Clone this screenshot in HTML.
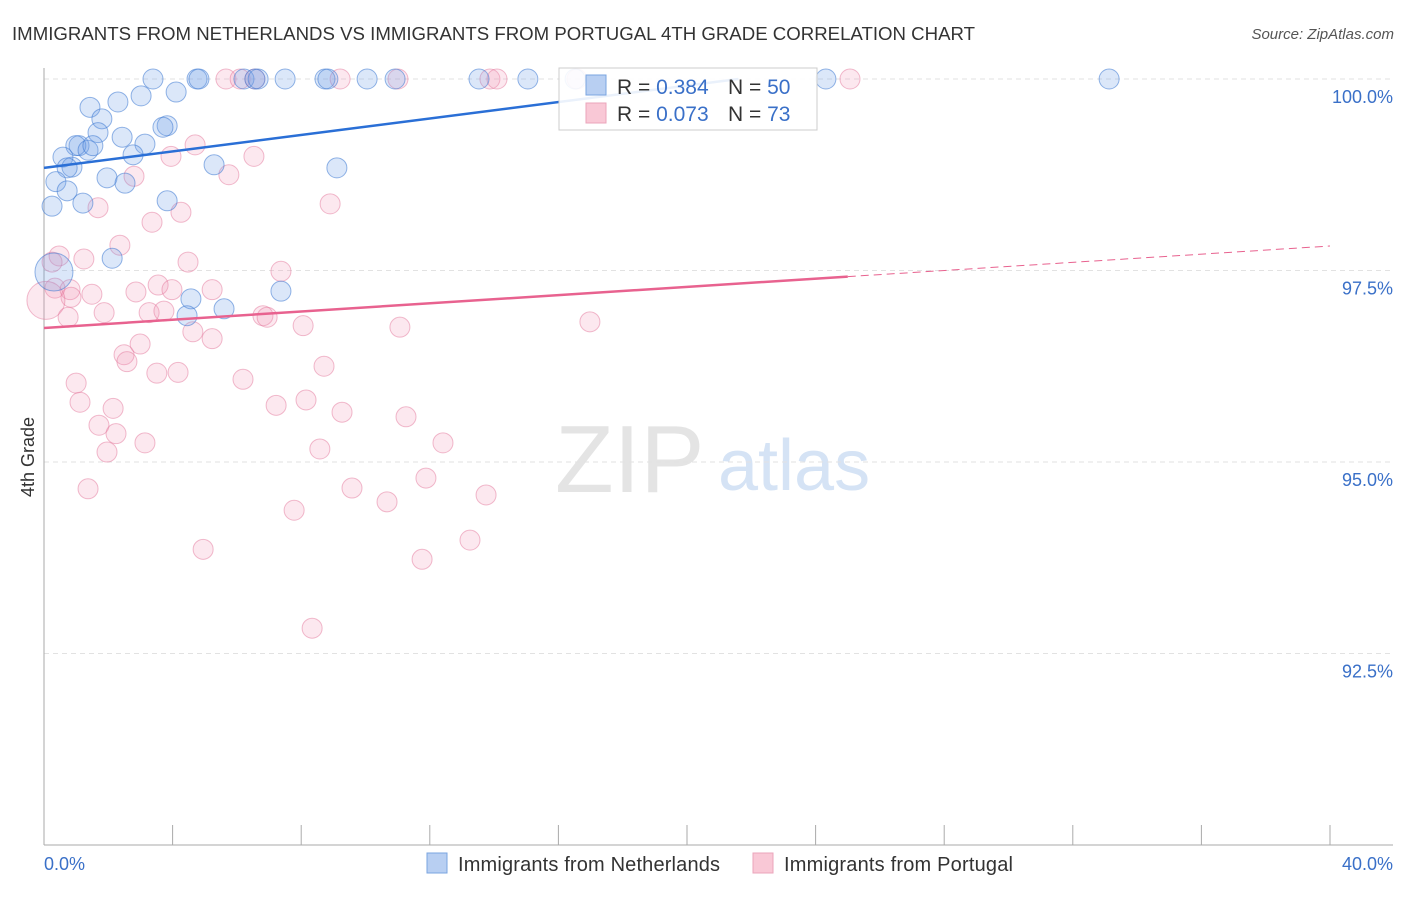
<!DOCTYPE html>
<html><head><meta charset="utf-8"><style>
body{margin:0;background:#fff;font-family:"Liberation Sans",sans-serif}
svg text{font-family:"Liberation Sans",sans-serif}
</style></head><body>
<svg id="c" width="1406" height="892">
<text x="12" y="40" font-size="18" fill="#333" textLength="963" lengthAdjust="spacingAndGlyphs">IMMIGRANTS FROM NETHERLANDS VS IMMIGRANTS FROM PORTUGAL 4TH GRADE CORRELATION CHART</text>
<text x="1394" y="39" font-size="15" fill="#555" font-style="italic" text-anchor="end">Source: ZipAtlas.com</text>
<text x="34" y="457" font-size="18" fill="#333" transform="rotate(-90 34 457)" text-anchor="middle">4th Grade</text>
<g><text x="555" y="492" font-size="96" fill="#e4e4e4" font-family="Liberation Serif,serif">ZIP</text><text x="718" y="490" font-size="72" fill="#d5e3f5">atlas</text></g>
<g id="grid"></g><g id="axes"></g><g id="marks"></g>
<g>
<rect x="559" y="68" width="258" height="62" fill="#fff" fill-opacity="0.9" stroke="#ccc"/>
<rect x="586" y="75" width="20" height="20" fill="#b8cff2" stroke="#7aa4e0"/>
<rect x="586" y="103" width="20" height="20" fill="#f9c8d6" stroke="#eba5bb"/>
<text x="617" y="94" font-size="21" fill="#333">R = <tspan fill="#3a70c8">0.384</tspan></text>
<text x="728" y="94" font-size="21" fill="#333">N = <tspan fill="#3a70c8">50</tspan></text>
<text x="617" y="121" font-size="21" fill="#333">R = <tspan fill="#3a70c8">0.073</tspan></text>
<text x="728" y="121" font-size="21" fill="#333">N = <tspan fill="#3a70c8"> 73</tspan></text>
</g>
<g>
<rect x="427" y="853" width="20" height="20" fill="#b8cff2" stroke="#7aa4e0"/>
<text x="458" y="871" font-size="20" fill="#333" textLength="262">Immigrants from Netherlands</text>
<rect x="753" y="853" width="20" height="20" fill="#f9c8d6" stroke="#eba5bb"/>
<text x="784" y="871" font-size="20" fill="#333" textLength="229">Immigrants from Portugal</text>
</g>
</svg>
<script>
const yTicks=[100,97.5,95,92.5];
const yTickLabels=["100.0%","97.5%","95.0%","92.5%"];
const xEndLabels=["0.0%","40.0%"];
const blueX=[3.39,4.76,4.82,6.22,6.56,6.66,7.50,8.74,8.83,10.05,10.92,13.53,15.05,16.52,24.32,33.13,1.43,2.30,3.02,4.11,1.80,1.68,2.43,3.83,3.70,3.14,1.09,0.99,1.37,1.52,0.59,0.87,0.72,2.77,5.29,9.11,1.96,2.52,0.37,0.72,0.25,1.21,3.83,2.12,4.57,7.37,5.60,4.45,0.31];
const blueY=[100,100,100,100,100,100,100,100,100,100,100,100,100,100,100,100,99.63,99.70,99.78,99.83,99.48,99.30,99.24,99.39,99.37,99.15,99.13,99.13,99.07,99.13,98.98,98.85,98.84,99.01,98.88,98.84,98.71,98.64,98.66,98.54,98.34,98.38,98.41,97.66,97.13,97.23,97.00,96.91,97.48];
const pinkX=[5.66,6.10,6.56,9.21,11.01,13.87,14.09,25.07,16.58,4.70,3.95,6.53,2.80,5.75,8.90,1.68,4.26,3.36,2.36,0.47,1.24,4.48,7.37,0.25,3.55,0.34,0.81,1.49,2.86,3.98,0.84,0.06,5.23,1.87,3.27,3.73,0.75,6.81,6.94,8.06,11.07,16.98,4.63,5.23,2.99,2.49,2.58,8.71,1.00,6.19,3.51,4.17,1.12,2.15,8.15,7.22,9.27,11.26,1.71,2.24,3.14,12.41,1.96,8.58,11.88,9.58,1.37,13.75,10.67,7.78,13.25,4.95,11.76,8.34];
const pinkY=[100,100,100,100,100,100,100,100,100,99.14,98.99,98.99,98.73,98.75,98.37,98.32,98.26,98.13,97.83,97.69,97.65,97.61,97.49,97.61,97.31,97.27,97.25,97.19,97.22,97.25,97.15,97.11,97.25,96.95,96.95,96.97,96.89,96.91,96.89,96.78,96.76,96.83,96.70,96.61,96.54,96.40,96.31,96.25,96.03,96.08,96.16,96.17,95.78,95.70,95.81,95.74,95.65,95.59,95.48,95.37,95.25,95.25,95.13,95.17,94.79,94.66,94.65,94.57,94.48,94.37,93.98,93.86,93.73,92.83];
const blueTrend=[0,98.84,21.6,100];
const pinkTrend=[0,96.75,25,97.42,40,97.82];
const NS="http://www.w3.org/2000/svg";
const X=v=>44+v*32.15, Y=v=>79+(100-v)*76.6;
function mk(t,a,p){const e=document.createElementNS(NS,t);for(const k in a)e.setAttribute(k,a[k]);p.appendChild(e);return e;}
const grid=document.getElementById('grid'),axes=document.getElementById('axes'),marks=document.getElementById('marks');
yTicks.forEach((t,i)=>{
 const l=mk('line',{x1:44,x2:1393,y1:Y(t),y2:Y(t),stroke:'#e2e2e2','stroke-dasharray':'5,4'},grid);
 
 
 const tx=mk('text',{x:1393,y:Y(t)+24,'font-size':18,fill:'#3a70c8','text-anchor':'end'},axes);
 tx.textContent=yTickLabels[i];
 
 
});
const ya=mk('line',{x1:44,x2:44,y1:68,y2:845,stroke:'#aaa'},axes);


const xa=mk('line',{x1:44,x2:1393,y1:845,y2:845,stroke:'#aaa'},axes);


for(let i=0;i<=10;i++){const t=mk('line',{x1:X(i*4),x2:X(i*4),y1:825,y2:845,stroke:'#aaa'},axes);
 
 }
[[0,'start',44],[40,'end',1393]].forEach((d,i)=>{const t=mk('text',{x:d[2],y:870,'font-size':18,fill:'#3a70c8','text-anchor':d[1]},axes);t.textContent=xEndLabels[i];
 
 });
function dots(xs,ys,fill,stroke,name,bigIdx){xs.forEach((x,i)=>{const r=(i===bigIdx)?19:10;
 const c=mk('circle',{cx:X(x),cy:Y(ys[i]),r:r,fill:fill,stroke:stroke,'stroke-width':1},marks);
 
 });}
dots(pinkX,pinkY,'rgba(242,150,180,0.22)','rgba(228,120,155,0.5)','portugal-point',31);
dots(blueX,blueY,'rgba(110,160,232,0.25)','rgba(60,120,210,0.55)','netherlands-point',48);
const bl=mk('line',{x1:X(blueTrend[0]),y1:Y(blueTrend[1]),x2:X(blueTrend[2]),y2:Y(blueTrend[3]),stroke:'#2a6fd6','stroke-width':2.5},marks);


const pl=mk('line',{x1:X(pinkTrend[0]),y1:Y(pinkTrend[1]),x2:X(pinkTrend[2]),y2:Y(pinkTrend[3]),stroke:'#e8628f','stroke-width':2.5},marks);


const pd=mk('line',{x1:X(pinkTrend[2]),y1:Y(pinkTrend[3]),x2:X(pinkTrend[4]),y2:Y(pinkTrend[5]),stroke:'#e8628f','stroke-width':1,'stroke-dasharray':'8,5'},marks);


</script>
</body></html>
